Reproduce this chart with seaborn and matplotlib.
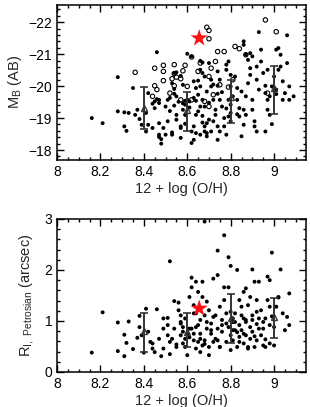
import numpy as np
import pandas as pd
import matplotlib
matplotlib.use('Agg')
import matplotlib.pyplot as plt
import seaborn as sns
from matplotlib.ticker import MultipleLocator

# --- top panel: absolute B magnitude vs metallicity ---
mb_dots_x = [8.16, 8.21, 8.28, 8.28, 8.31, 8.33, 8.31, 8.32, 8.35, 8.36, 8.37, 8.38, 8.39, 8.41, 8.41,
             8.46, 8.44, 8.45, 8.46, 8.42, 8.47, 8.47, 8.45, 8.44, 8.42, 8.47, 8.47, 8.48, 8.48, 8.47,
             8.49, 8.50, 8.51, 8.51, 8.50,
             8.52, 8.53, 8.53, 8.54, 8.54, 8.54, 8.55, 8.56, 8.55, 8.55, 8.57, 8.57, 8.57, 8.58, 8.59,
             8.59, 8.59, 8.59, 8.58, 8.57, 8.55, 8.54, 8.53, 8.60, 8.60, 8.61,
             8.62, 8.63, 8.64, 8.64, 8.65, 8.66, 8.66, 8.67, 8.67, 8.68, 8.68, 8.69, 8.69, 8.62, 8.62,
             8.63, 8.63, 8.64, 8.64, 8.66, 8.66, 8.67, 8.67, 8.68, 8.69, 8.66, 8.65, 8.67, 8.68,
             8.70, 8.71, 8.71, 8.72, 8.73, 8.73, 8.74, 8.74, 8.74, 8.75, 8.75, 8.76, 8.77, 8.77, 8.78,
             8.78, 8.79, 8.80, 8.80, 8.79, 8.80, 8.80, 8.81, 8.74, 8.74, 8.72, 8.71, 8.70, 8.69, 8.75,
             8.78, 8.79, 8.80,
             8.82, 8.83, 8.83, 8.84, 8.84, 8.85, 8.86, 8.87, 8.87, 8.88, 8.89, 8.89, 8.88, 8.86, 8.85,
             8.86, 8.90, 8.90, 8.91, 8.91, 8.92, 8.93, 8.92, 8.92, 8.90, 8.87, 8.86, 8.89,
             8.94, 8.94, 8.95, 8.96, 8.96, 8.97, 8.97, 8.98, 8.98, 8.97, 9.00, 8.99, 9.01, 9.01, 9.02,
             9.03, 9.04, 9.04, 9.05, 8.99, 8.96, 9.06, 9.07, 9.07, 9.09, 9.02, 9.03, 9.01, 8.93, 9.06,
             8.58, 8.61, 8.65, 8.70, 8.76, 8.83, 8.52, 8.63, 8.72, 8.78]
mb_dots_y = [-19.00, -18.84, -20.28, -19.21, -19.18, -19.16, -18.74, -18.60, -19.94, -19.10, -19.26, -18.97, -18.79, -18.58, -19.16,
             -21.06, -19.45, -19.52, -19.59, -19.78, -19.47, -19.57, -19.31, -18.69, -18.79, -18.84, -18.48, -18.34, -18.20, -18.41,
             -18.69, -18.48, -18.90, -19.57, -19.36,
             -19.63, -18.48, -18.55, -19.39, -19.91, -19.76, -19.68, -19.51, -19.10, -18.95, -18.74, -18.38, -18.69, -19.26, -19.54,
             -19.42, -19.10, -18.82, -20.04, -20.32, -20.43, -20.41, -20.09, -21.01, -19.57, -19.52,
             -20.93, -20.15, -19.94, -19.54, -19.73, -19.36, -19.99, -19.07, -18.86, -18.74, -18.58, -18.43, -18.84, -18.58, -18.22,
             -18.74, -18.32, -18.53, -19.10, -18.48, -20.79, -20.74, -20.41, -20.30, -19.83, -20.51, -20.17, -19.57, -19.36,
             -20.72, -20.20, -19.99, -19.57, -19.26, -19.10, -19.76, -20.46, -20.01, -20.20, -19.57, -19.36, -19.00, -18.74, -20.67,
             -20.51, -20.77, -20.35, -19.99, -19.57, -19.16, -18.90, -19.68, -18.74, -18.32, -18.90, -18.58, -18.95, -18.53, -18.58,
             -18.48, -19.05, -19.42,
             -20.30, -19.94, -19.57, -19.31, -19.05, -18.43, -18.79, -19.10, -19.68, -20.09, -20.35, -20.56, -20.82, -21.40, -19.83,
             -19.26, -19.57, -19.26, -18.90, -18.74, -18.58, -19.89, -20.20, -20.61, -20.93, -20.98, -21.29, -21.03,
             -21.14, -20.77, -20.41, -20.01, -19.78, -19.57, -19.26, -19.10, -19.68, -20.51, -20.30, -19.99, -19.89, -19.75, -20.51,
             -20.61, -20.15, -19.57, -19.78, -18.81, -18.58, -20.72, -19.57, -19.99, -19.68, -21.19, -20.98, -21.14, -21.69, -21.59,
             -19.46, -19.33, -19.21, -19.48, -19.81, -19.12, -19.22, -19.63, -20.05, -19.30]

mb_open_x = [8.36, 8.45, 8.45, 8.49, 8.49, 8.49, 8.54, 8.54, 8.53, 8.59, 8.62, 8.58, 8.57, 8.46, 8.44,
             8.52, 8.54, 8.55, 8.60, 8.65, 8.66, 8.70, 8.71, 8.73, 8.74, 8.77, 8.82, 8.84, 8.87, 9.01,
             8.96, 8.69, 8.70, 8.70, 8.97, 8.68, 8.70, 8.72, 8.75, 8.79, 8.81, 8.62, 8.57]
mb_open_y = [-20.43, -20.56, -20.01, -20.65, -20.46, -20.17, -20.67, -20.39, -20.23, -20.65, -20.91, -20.48, -20.23, -19.89, -19.68,
             -19.78, -20.01, -20.28, -19.99, -20.46, -20.72, -20.30, -20.56, -20.77, -21.08, -21.08, -21.24, -21.17, -20.98, -21.70,
             -22.07, -21.84, -21.74, -21.48, -19.78, -19.52, -19.36, -19.73, -20.04, -19.97, -20.20, -19.57, -19.57]

# binned means with dispersion
bin_x = [8.4, 8.6, 8.8, 9.0]
mb_mean = [-19.30, -19.25, -19.67, -19.93]
mb_lo = [-18.65, -18.59, -18.85, -19.13]
mb_hi = [-19.98, -19.82, -20.19, -20.64]

star_x = [8.655]
star_mb = [-21.5]

# --- bottom panel: Petrosian radius vs metallicity ---
r_x = [8.16, 8.21, 8.28, 8.28, 8.31, 8.31, 8.32, 8.33, 8.35, 8.37, 8.38, 8.38, 8.39, 8.40, 8.41,
       8.42, 8.43, 8.44, 8.44, 8.45, 8.46, 8.47, 8.48, 8.49, 8.49, 8.49, 8.51, 8.51, 8.51, 8.52,
       8.52, 8.52, 8.53, 8.54, 8.54, 8.55, 8.55, 8.56, 8.56, 8.57, 8.57, 8.58, 8.58, 8.59, 8.59,
       8.59, 8.60, 8.61, 8.61, 8.62, 8.62, 8.63, 8.63, 8.63, 8.64, 8.64, 8.64, 8.65, 8.65, 8.66,
       8.66, 8.66, 8.67, 8.67, 8.68, 8.68, 8.68, 8.69, 8.69, 8.70, 8.70, 8.71, 8.71, 8.72, 8.73,
       8.73, 8.74, 8.74, 8.74, 8.75, 8.75, 8.76, 8.76, 8.77, 8.77, 8.77, 8.78, 8.78, 8.79, 8.79,
       8.79, 8.80, 8.80, 8.80, 8.81, 8.81, 8.82, 8.82, 8.82, 8.83, 8.83, 8.84, 8.84, 8.84, 8.85,
       8.85, 8.86, 8.86, 8.86, 8.87, 8.87, 8.87, 8.88, 8.88, 8.89, 8.89, 8.89, 8.90, 8.90, 8.90,
       8.91, 8.91, 8.92, 8.92, 8.92, 8.93, 8.93, 8.94, 8.94, 8.95, 8.95, 8.96, 8.96, 8.97, 8.97,
       8.98, 8.98, 8.98, 8.99, 8.99, 9.00, 9.00, 9.01, 9.02, 9.02, 9.03, 9.04, 9.05, 9.06, 9.07,
       9.07,
       8.57, 8.60, 8.62, 8.64, 8.66, 8.67, 8.69, 8.72, 8.72, 8.74, 8.76, 8.80, 8.81, 8.84, 8.85,
       8.88, 8.90, 8.93, 8.96, 8.98, 8.57, 8.63, 8.70, 8.75, 8.81, 8.86, 8.92,
       8.58, 8.61, 8.65, 8.68, 8.71, 8.78, 8.83, 8.87, 8.91, 8.95]
r_y = [0.38, 1.17, 0.97, 0.41, 0.73, 0.31, 0.57, 0.99, 0.45, 0.67, 1.10, 0.88, 0.72, 0.38, 1.24,
       0.79, 0.59, 0.46, 0.56, 0.39, 1.23, 0.65, 0.31, 1.05, 0.85, 0.46, 1.06, 0.92, 0.72, 2.17,
       0.35, 0.59, 0.65, 1.39, 0.85, 0.49, 0.54, 1.36, 1.21, 0.98, 0.72, 0.56, 0.79, 0.65, 0.49,
       1.05, 0.33, 0.85, 1.47, 1.66, 1.85, 1.15, 0.62, 0.75, 0.46, 1.77, 0.88, 1.57, 0.59, 0.39,
       1.02, 0.75, 1.47, 1.77, 2.95, 1.11, 0.62, 0.85, 1.38, 0.49, 0.33, 0.95, 0.75, 1.83, 1.11,
       0.65, 1.90, 0.85, 2.38, 0.49, 1.28, 1.02, 0.79, 1.66, 2.68, 1.41, 1.15, 0.59, 2.25, 0.88,
       1.66, 2.08, 0.72, 1.18, 0.98, 0.62, 0.82, 1.15, 0.98, 2.00, 0.49, 1.41, 0.92, 0.69, 1.11,
       0.82, 1.57, 0.56, 1.05, 0.72, 0.98, 1.64, 0.49, 1.31, 0.88, 1.47, 0.65, 1.11, 0.79, 2.01,
       0.49, 1.77, 0.94, 1.41, 0.62, 1.77, 1.05, 0.72, 1.21, 0.52, 0.85, 1.05, 0.64, 1.41, 1.87,
       1.80, 0.92, 0.56, 2.34, 1.09, 0.88, 0.52, 1.28, 1.47, 1.46, 2.01, 1.15, 0.82, 1.08, 1.54,
       0.92,
       1.11, 0.75, 0.85, 1.15, 0.65, 0.52, 0.98, 1.08, 0.59, 0.62, 0.92, 0.43, 1.05, 0.59, 1.28,
       0.46, 1.02, 0.85, 0.49, 1.28, 0.95, 1.31, 1.21, 0.49, 0.82, 0.75, 1.18,
       0.88, 0.68, 0.92, 0.55, 0.82, 0.95, 0.78, 1.02, 0.70, 0.98]

r_mean = [0.80, 0.79, 1.05, 1.07]
r_lo = [0.39, 0.49, 0.57, 0.67]
r_hi = [1.16, 1.16, 1.52, 1.46]
star_r = [1.245]

sns.set_style('ticks')
plt.rcParams['font.family'] = ['Liberation Sans', 'DejaVu Sans']
plt.rcParams['mathtext.fontset'] = 'custom'
plt.rcParams['mathtext.rm'] = 'Liberation Sans'

fig = plt.figure(figsize=(3.10, 4.07), dpi=100)
ax1 = fig.add_axes([0.184, 0.607, 0.803, 0.381])
ax2 = fig.add_axes([0.184, 0.086, 0.803, 0.376])


def style_axis(ax):
    ax.set_xlim(8, 9.147)
    ax.xaxis.set_major_locator(MultipleLocator(0.2))
    ax.xaxis.set_minor_locator(MultipleLocator(0.05))
    ax.yaxis.set_major_locator(MultipleLocator(1))
    ax.yaxis.set_minor_locator(MultipleLocator(0.2))
    ax.tick_params(which='both', direction='in', top=True, right=True, colors='black',
                   labelsize=10, width=1.0)
    ax.tick_params(which='major', length=5)
    ax.tick_params(which='minor', length=2.5)
    ax.set_xticks([8, 8.2, 8.4, 8.6, 8.8, 9])
    ax.set_xticklabels(['8', '8.2', '8.4', '8.6', '8.8', '9'])
    for sp in ax.spines.values():
        sp.set_linewidth(1.1)
        sp.set_color('black')
    ax.set_xlabel('12 + log (O/H)', fontsize=10.5, labelpad=2)


# top panel
top_dots = pd.DataFrame({'oh': mb_dots_x, 'mb': mb_dots_y})
top_open = pd.DataFrame({'oh': mb_open_x, 'mb': mb_open_y})
sns.scatterplot(data=top_dots, x='oh', y='mb', ax=ax1, s=8, color='black', edgecolor='none', legend=False)
sns.scatterplot(data=top_open, x='oh', y='mb', ax=ax1, s=10, facecolor='none', edgecolor='black',
                linewidth=0.8, legend=False)
ax1.errorbar(bin_x, mb_mean,
             yerr=[np.array(mb_mean) - np.array(mb_hi), np.array(mb_lo) - np.array(mb_mean)],
             fmt='^', mfc='none', mec='#333333', ms=4.5, ecolor='#333333', elinewidth=1.4,
             capsize=3, capthick=1.2, zorder=4)
ax1.scatter(star_x, star_mb, marker='*', s=170, color='#ff1010', edgecolor='none', zorder=5)
style_axis(ax1)
ax1.set_ylim(-17.69, -22.54)
ax1.set_yticks([-22, -21, -20, -19, -18])
ax1.set_yticklabels(['\u221222', '\u221221', '\u221220', '\u221219', '\u221218'])
ax1.set_ylabel(r'M$_{\rm B}$ (AB)', fontsize=10.5, labelpad=3)

# bottom panel
bot = pd.DataFrame({'oh': r_x, 'r': r_y})
sns.scatterplot(data=bot, x='oh', y='r', ax=ax2, s=8, color='black', edgecolor='none', legend=False)
ax2.errorbar(bin_x, r_mean,
             yerr=[np.array(r_mean) - np.array(r_lo), np.array(r_hi) - np.array(r_mean)],
             fmt='^', mfc='none', mec='#333333', ms=4.5, ecolor='#333333', elinewidth=1.4,
             capsize=3, capthick=1.2, zorder=4)
ax2.scatter(star_x, star_r, marker='*', s=170, color='#ff1010', edgecolor='none', zorder=5)
style_axis(ax2)
ax2.set_ylim(0, 3)
ax2.set_yticks([0, 1, 2, 3])
ax2.set_ylabel(r'R$_{\rm I,\ Petrosian}$ (arcsec)', fontsize=10.5, labelpad=5)

fig.savefig('out.png', dpi=100)
